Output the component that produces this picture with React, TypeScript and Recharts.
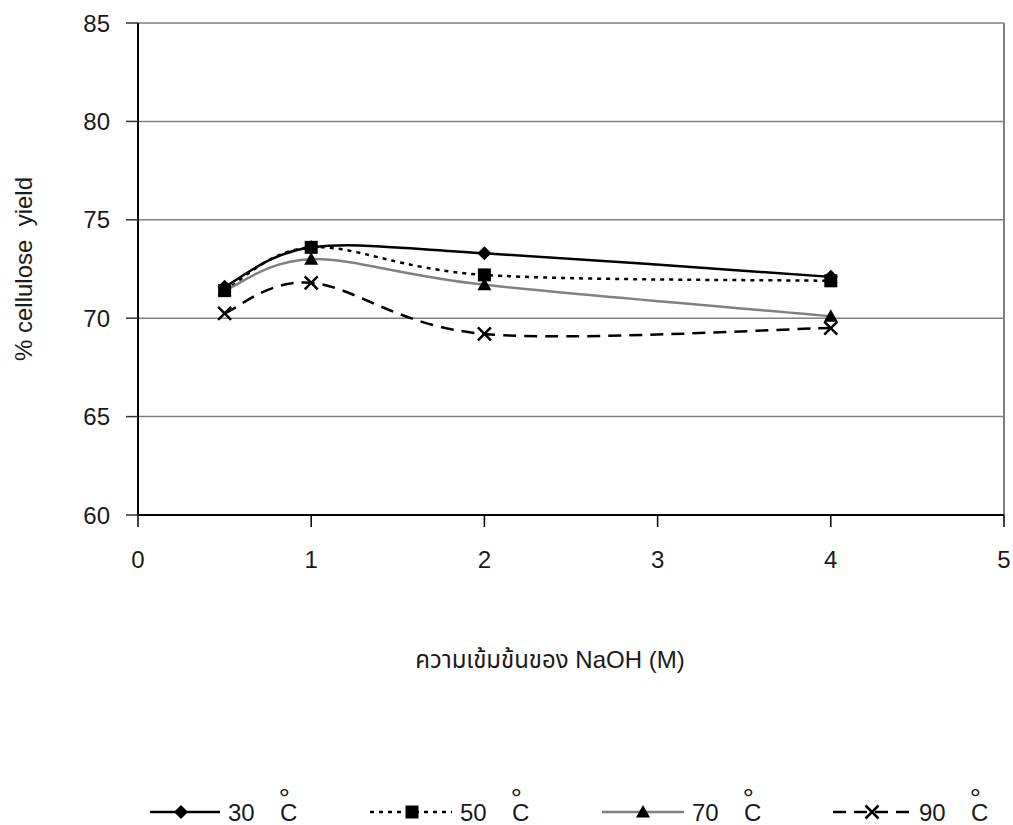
import React from "react";
import {
  LineChart,
  Line,
  XAxis,
  YAxis,
  CartesianGrid,
  Legend,
  ReferenceLine,
} from "recharts";

const naohConc = [0.5, 1, 2, 4];
const yield30 = [71.6, 73.6, 73.3, 72.1];
const yield50 = [71.4, 73.6, 72.2, 71.9];
const yield70 = [71.4, 73.0, 71.7, 70.1];
const yield90 = [70.25, 71.8, 69.2, 69.5];
const xTicks = [0, 1, 2, 3, 4, 5];
const yTicks = [60, 65, 70, 75, 80, 85];
const seriesNames = ["30", "50", "70", "90"];

const data = naohConc.map((x, i) => ({
  x,
  t30: yield30[i],
  t50: yield50[i],
  t70: yield70[i],
  t90: yield90[i],
}));

const FONT = "'Liberation Sans', Arial, 'Noto Sans Thai', 'DejaVu Sans', sans-serif";
const TEXT = "#1a1a1a";

// smooth line like the spreadsheet one (bezier, 1/6 tension)
const smoothCurve = (ctx: any) => {
  let pts: number[][] = [];
  return {
    areaStart() {},
    areaEnd() {},
    lineStart() {
      pts = [];
    },
    point(x: number, y: number) {
      pts.push([+x, +y]);
    },
    lineEnd() {
      if (!pts.length) return;
      ctx.moveTo(pts[0][0], pts[0][1]);
      for (let i = 0; i < pts.length - 1; i++) {
        const p0 = pts[i - 1] || pts[i];
        const p1 = pts[i];
        const p2 = pts[i + 1];
        const p3 = pts[i + 2] || p2;
        ctx.bezierCurveTo(
          p1[0] + (p2[0] - p0[0]) / 6,
          p1[1] + (p2[1] - p0[1]) / 6,
          p2[0] - (p3[0] - p1[0]) / 6,
          p2[1] - (p3[1] - p1[1]) / 6,
          p2[0],
          p2[1]
        );
      }
    },
  };
};

function Marker({ kind, cx, cy }: { kind: string; cx: number; cy: number }) {
  if (cx == null || cy == null) return null;
  if (kind === "diamond") {
    const r = 7;
    return <path d={`M${cx},${cy - r}L${cx + r},${cy}L${cx},${cy + r}L${cx - r},${cy}Z`} fill="#000" />;
  }
  if (kind === "square") {
    const r = 6.5;
    return <rect x={cx - r} y={cy - r} width={r * 2} height={r * 2} fill="#000" />;
  }
  if (kind === "triangle") {
    const r = 7;
    return <path d={`M${cx},${cy - r}L${cx + r},${cy + r * 0.8}L${cx - r},${cy + r * 0.8}Z`} fill="#000" />;
  }
  const r = 6.5;
  return (
    <path
      d={`M${cx - r},${cy - r}L${cx + r},${cy + r}M${cx + r},${cy - r}L${cx - r},${cy + r}`}
      stroke="#000"
      strokeWidth={2.5}
      fill="none"
    />
  );
}

const series = [
  { key: "t30", marker: "diamond", stroke: "#000", dash: undefined },
  { key: "t50", marker: "square", stroke: "#000", dash: "4 5" },
  { key: "t70", marker: "triangle", stroke: "#808080", dash: undefined },
  { key: "t90", marker: "x", stroke: "#000", dash: "13 8" },
];

// legend sample start/marker/end x and text x for each entry
const legendPos = [
  { x1: 150, xm: 181, x2: 220, tx: 228 },
  { x1: 370, xm: 412, x2: 452, tx: 460 },
  { x1: 602, xm: 643, x2: 684, tx: 692 },
  { x1: 833, xm: 872, x2: 910, tx: 919 },
];

function LegendContent() {
  const ly = 37;
  const base = 46;
  return (
    <svg width={1013} height={50} style={{ display: "block", overflow: "visible" }}>
      {series.map((s, i) => {
        const p = legendPos[i];
        return (
          <g key={s.key}>
            <line
              x1={p.x1}
              x2={p.x2}
              y1={ly}
              y2={ly}
              stroke={s.stroke}
              strokeWidth={2.5}
              strokeDasharray={s.dash}
            />
            <Marker kind={s.marker} cx={p.xm} cy={ly} />
            <text x={p.tx} y={base} fontSize={24} fontFamily={FONT} fill={TEXT}>
              {seriesNames[i]}
              <tspan fontSize={28} dx={24} dy={-13}>
                °
              </tspan>
              <tspan fontSize={24} dx={-10} dy={13}>
                C
              </tspan>
            </text>
          </g>
        );
      })}
    </svg>
  );
}

export default function App() {
  return (
    <div style={{ position: "absolute", left: 0, top: 0, width: 1013, height: 825, background: "#fff" }}>
      <LineChart
        width={1013}
        height={825}
        data={data}
        margin={{ top: 23, right: 9, bottom: 0, left: 0 }}
      >
        <CartesianGrid horizontal vertical={false} stroke="#808080" strokeWidth={1.5} />
        <ReferenceLine x={5} stroke="#808080" strokeWidth={2} />
        <XAxis
          type="number"
          dataKey="x"
          domain={[0, 5]}
          ticks={xTicks}
          interval={0}
          height={260}
          tickSize={12}
          tickMargin={24}
          axisLine={{ stroke: "#000", strokeWidth: 2 }}
          tickLine={{ stroke: "#000", strokeWidth: 1.5 }}
          tick={{ fontSize: 24, fill: TEXT, fontFamily: FONT }}
          label={{
            value: "ความเข้มข้นของ NaOH (M)",
            position: "insideTop",
            offset: 136,
            dx: -21,
            fontSize: 24,
            fill: TEXT,
            fontFamily: FONT,
          }}
        />
        <YAxis
          type="number"
          domain={[60, 85]}
          ticks={yTicks}
          interval={0}
          width={138}
          tickSize={12}
          tickMargin={16}
          axisLine={{ stroke: "#000", strokeWidth: 2 }}
          tickLine={{ stroke: "#333", strokeWidth: 1.5 }}
          tick={{ fontSize: 24, fill: TEXT, fontFamily: FONT }}
          label={{
            content: () => (
              <text
                x={23}
                y={269}
                transform="rotate(-90, 23, 269)"
                textAnchor="middle"
                dominantBaseline="central"
                fontSize={24}
                fill={TEXT}
                fontFamily={FONT}
                style={{ whiteSpace: "pre" }}
              >
                % cellulose  yield
              </text>
            ),
          }}
        />
        <Legend
          verticalAlign="bottom"
          height={50}
          wrapperStyle={{ left: 0, top: 775, width: 1013 }}
          content={() => <LegendContent />}
        />
        {series.map((s) => (
          <Line
            key={s.key}
            dataKey={s.key}
            type={smoothCurve as any}
            stroke={s.stroke}
            strokeWidth={2.5}
            strokeDasharray={s.dash}
            isAnimationActive={false}
            dot={(p: any) => <Marker key={`${s.key}-${p.index}`} kind={s.marker} cx={p.cx} cy={p.cy} />}
            activeDot={false}
          />
        ))}
      </LineChart>
    </div>
  );
}
